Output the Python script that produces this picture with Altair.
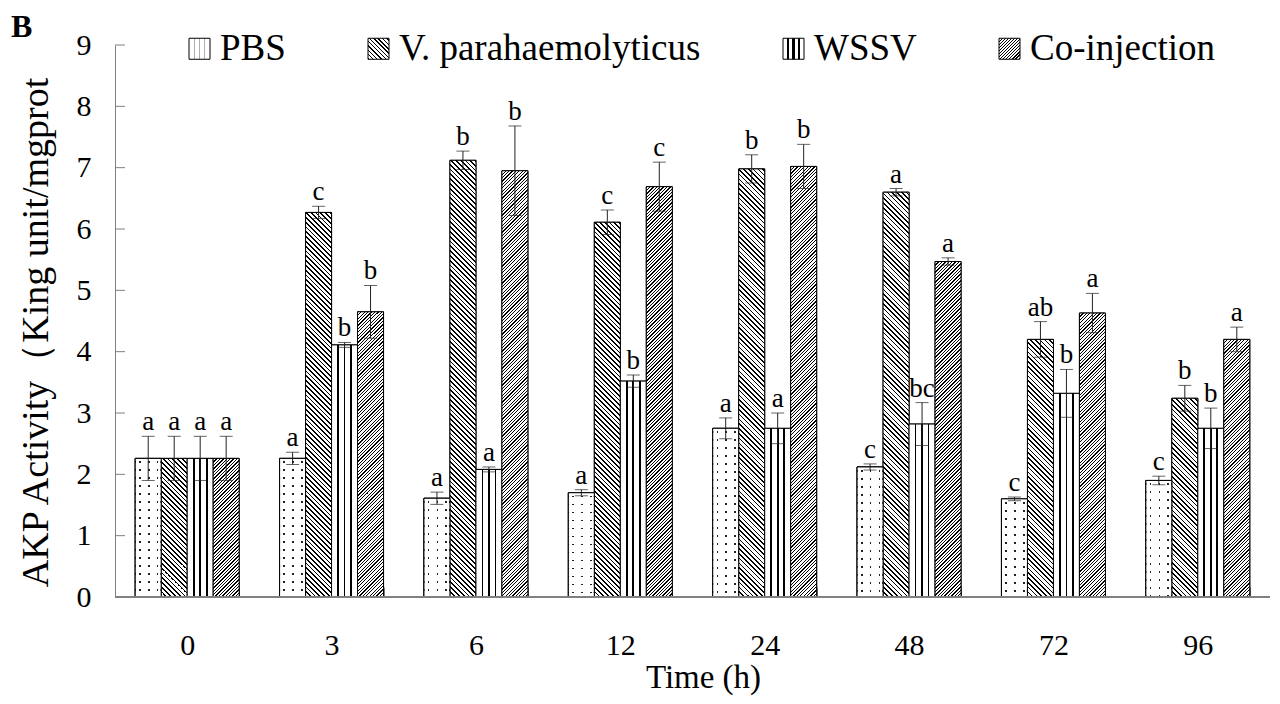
import altair as alt
import pandas as pd

# ---------------- data ----------------
times = ["0", "3", "6", "12", "24", "48", "72", "96"]
groups = ["PBS", "V. parahaemolyticus", "WSSV", "Co-injection"]

pbs_mean = [2.26, 2.26, 1.61, 1.70, 2.75, 2.12, 1.60, 1.90]
pbs_err = [0.36, 0.10, 0.10, 0.05, 0.17, 0.05, 0.03, 0.07]
pbs_sig = ["a", "a", "a", "a", "a", "c", "c", "c"]

vp_mean = [2.26, 6.27, 7.12, 6.11, 6.98, 6.60, 4.20, 3.24]
vp_err = [0.36, 0.10, 0.15, 0.20, 0.23, 0.06, 0.29, 0.21]
vp_sig = ["a", "c", "b", "c", "b", "a", "ab", "b"]

wssv_mean = [2.26, 4.11, 2.08, 3.52, 2.75, 2.82, 3.32, 2.75]
wssv_err = [0.36, 0.04, 0.04, 0.10, 0.25, 0.35, 0.39, 0.33]
wssv_sig = ["a", "b", "a", "b", "a", "bc", "b", "b"]

co_mean = [2.26, 4.65, 6.95, 6.69, 7.02, 5.47, 4.63, 4.20]
co_err = [0.36, 0.43, 0.73, 0.40, 0.36, 0.06, 0.32, 0.20]
co_sig = ["a", "b", "b", "c", "b", "a", "a", "a"]

y_ticks = list(range(10))
panel_label = ["B"]

# ---------------- layout / style ----------------
W, H = 1155, 552
PAD_IN, PAD_OUT = 0.28, 0.14
STEP = W / (len(times) - PAD_IN + 2 * PAD_OUT)
BAR_W = STEP * (1 - PAD_IN) / len(groups)
PXU = H / 9.0
FONT = "Liberation Serif"
AXIS_GRAY = "#808080"

rows = []
for name, means, errs, sigs in [
    (groups[0], pbs_mean, pbs_err, pbs_sig),
    (groups[1], vp_mean, vp_err, vp_sig),
    (groups[2], wssv_mean, wssv_err, wssv_sig),
    (groups[3], co_mean, co_err, co_sig),
]:
    for t, m, e, s in zip(times, means, errs, sigs):
        rows.append({"time": t, "group": name, "mean": m,
                     "lo": round(m - e, 3), "hi": round(m + e, 3), "sig": s})
df = pd.DataFrame(rows)
ytdf = pd.DataFrame({"v": y_ticks})
labdf = pd.DataFrame({"t": panel_label})


def diag_stops(period, ink, denom, ink_color, n, bg="#ffffff"):
    parts = []
    for i in range(n):
        a = i * period
        b = a + ink
        c = a + period
        parts.append(f"{{offset:{a:.2f}/{denom},color:'{ink_color}'}}")
        parts.append(f"{{offset:{b:.2f}/{denom},color:'{ink_color}'}}")
        parts.append(f"{{offset:{b:.2f}/{denom},color:'{bg}'}}")
        parts.append(f"{{offset:{c:.2f}/{denom},color:'{bg}'}}")
    return "[" + ",".join(parts) + "]"


def col_stops(centers, half, ink_color, bg="#ffffff"):
    parts = [f"{{offset:0,color:'{bg}'}}"]
    for c in centers:
        a, b = c - half, c + half
        parts += [f"{{offset:{a:.4f},color:'{bg}'}}", f"{{offset:{a:.4f},color:'{ink_color}'}}",
                  f"{{offset:{b:.4f},color:'{ink_color}'}}", f"{{offset:{b:.4f},color:'{bg}'}}"]
    parts.append(f"{{offset:1,color:'{bg}'}}")
    return "[" + ",".join(parts) + "]"


def row_mask_stops(period, gap, denom, n):
    clear = "rgba(255,255,255,0)"
    parts = [f"{{offset:0,color:'#ffffff'}}"]
    for i in range(n):
        a = i * period + 3.0
        b = a + gap
        parts += [f"{{offset:{a:.2f}/{denom},color:'#ffffff'}}", f"{{offset:{a:.2f}/{denom},color:'{clear}'}}",
                  f"{{offset:{b:.2f}/{denom},color:'{clear}'}}", f"{{offset:{b:.2f}/{denom},color:'#ffffff'}}"]
    return "[" + ",".join(parts) + "]"


V_P, V_INK = 4.8, 1.7
C_P, C_INK = 3.4, 1.25
wssv_cols = col_stops([0.25, 0.5, 0.75], 0.035, "#000000")
pbs_cols = col_stops([0.18, 0.52, 0.86], 0.032, "#222222")

v_expr = ("{gradient:'linear',x1:0,y1:1,x2:datum.K*%f,y2:1-datum.K*datum.h,stops:%s}"
          % (BAR_W, diag_stops(V_P, V_INK, "datum.S", "#000000", 110)))
c_expr = ("{gradient:'linear',x1:0,y1:0,x2:datum.K*%f,y2:datum.K*datum.h,stops:%s}"
          % (BAR_W, diag_stops(C_P, C_INK, "datum.S", "#000000", 150)))
w_expr = "{gradient:'linear',x1:0,y1:0,x2:1,y2:0,stops:%s}" % wssv_cols
p_expr = "{gradient:'linear',x1:0,y1:0,x2:1,y2:0,stops:%s}" % pbs_cols
grad_expr = (f"datum.group === '{groups[1]}' ? {v_expr} : datum.group === '{groups[3]}' ? {c_expr} : "
             f"datum.group === '{groups[2]}' ? {w_expr} : {p_expr}")
mask_expr = ("{gradient:'linear',x1:0,y1:0,x2:0,y2:1,stops:%s}"
             % row_mask_stops(8.0, 1.7, "datum.h", 40))

# legend symbol fills (square symbols, side ~21px)
SYM = 21
leg_pbs = "{gradient:'linear',x1:0,y1:0,x2:1,y2:0,stops:%s}" % col_stops([0.25, 0.5, 0.75], 0.035, "#b0b0b0")
leg_v = "{gradient:'linear',x1:0,y1:1,x2:1,y2:0,stops:%s}" % diag_stops(V_P * 0.9, V_INK * 0.9, str(2 * SYM), "#000000", 14)
leg_w = "{gradient:'linear',x1:0,y1:0,x2:1,y2:0,stops:%s}" % col_stops([0.25, 0.5, 0.75], 0.05, "#000000")
leg_c = "{gradient:'linear',x1:0,y1:0,x2:1,y2:1,stops:%s}" % diag_stops(C_P * 0.9, C_INK * 0.9, str(2 * SYM), "#000000", 18)

# ---------------- encodings ----------------
x_scale = alt.Scale(domain=times, paddingInner=PAD_IN, paddingOuter=PAD_OUT)
y_scale = alt.Scale(domain=[0, 9], nice=False, zero=True)
xo_scale = alt.Scale(domain=groups, paddingInner=0, paddingOuter=0)

x_axis = alt.Axis(title="Time (h)", domain=False, ticks=True, tickBand="extent", tickSize=10,
                  tickColor=AXIS_GRAY, offset=-10, labelAngle=0, labelFont=FONT, labelFontSize=30,
                  labelColor="black", labelPadding=33, grid=False,
                  titleFont=FONT, titleFontSize=33, titleFontWeight="normal", titleColor="black",
                  titleX=588, titleY=100, titleBaseline="alphabetic", titleAlign="center")
y_axis = alt.Axis(title="AKP Activity（King unit/mgprot", values=y_ticks, format="d", domain=True,
                  domainColor=AXIS_GRAY, ticks=False, grid=False, labelFont=FONT, labelFontSize=30,
                  labelColor="black", labelPadding=24,
                  titleFont=FONT, titleFontSize=38, titleFontWeight="normal", titleColor="black",
                  titleAngle=270, titleX=-68, titleY=287, titleBaseline="alphabetic", titleAlign="center")


def X():
    return alt.X("time:N", scale=x_scale, axis=x_axis, sort=times)


def XO():
    return alt.XOffset("group:N", scale=xo_scale, sort=groups)


def Y(field):
    return alt.Y(field, type="quantitative", scale=y_scale, axis=y_axis)


base = alt.Chart(df)

legend_bars = base.mark_bar(stroke="black", strokeWidth=1).encode(
    x=X(), xOffset=XO(), y=Y("mean"),
    color=alt.Color("group:N", sort=groups,
                    scale=alt.Scale(domain=groups, range=[{"expr": e} for e in [leg_pbs, leg_v, leg_w, leg_c]]),
                    legend=alt.Legend(title=None, orient="none", legendX=66, legendY=-15,
                                      direction="horizontal", columns=4, symbolType="square",
                                      symbolSize=SYM * SYM, symbolStrokeColor="black",
                                      symbolStrokeWidth=1, symbolOpacity=1, labelFont=FONT,
                                      labelFontSize=37, labelColor="black", labelLimit=700,
                                      columnPadding=74, labelOffset=2, padding=0)),
)

main_bars = base.transform_calculate(
    h=f"datum.mean * {PXU}"
).transform_calculate(
    S=f"{BAR_W} + datum.h",
    K=f"({BAR_W} + datum.h) / ({BAR_W * BAR_W} + datum.h * datum.h)",
).transform_calculate(
    grad=grad_expr
).mark_bar(stroke="black", strokeWidth=1).encode(
    x=X(), xOffset=XO(), y=Y("mean"),
    fill=alt.Fill("grad:N", scale=None, legend=None),
)

pbs_mask = base.transform_filter(
    alt.datum.group == groups[0]
).transform_calculate(
    h=f"datum.mean * {PXU}"
).transform_calculate(
    mask=mask_expr
).mark_bar(stroke="black", strokeWidth=1).encode(
    x=X(), xOffset=XO(), y=Y("mean"),
    fill=alt.Fill("mask:N", scale=None, legend=None),
)

err_rule = base.mark_rule(color="#222222", strokeWidth=1).encode(
    x=X(), xOffset=XO(), y=Y("lo"), y2="hi")
cap_hi = base.mark_tick(color="#222222", thickness=1, size=13).encode(
    x=X(), xOffset=XO(), y=Y("hi"))
cap_lo = base.mark_tick(color="#222222", thickness=1, size=13).encode(
    x=X(), xOffset=XO(), y=Y("lo"))

letters = base.mark_text(font=FONT, fontSize=27, baseline="alphabetic", dy=-6, color="black").encode(
    x=X(), xOffset=XO(), y=Y("hi"), text="sig:N")

y_tick_rules = alt.Chart(ytdf).mark_rule(color=AXIS_GRAY, strokeWidth=1).encode(
    y=Y("v"), x=alt.value(0), x2=alt.value(10))

x_base = alt.Chart(ytdf).mark_rule(color=AXIS_GRAY, strokeWidth=1.2).encode(
    y=alt.datum(0), x=alt.value(0), x2=alt.value(W))

panel = alt.Chart(labdf).mark_text(font=FONT, fontSize=32, fontWeight="bold", align="left",
                                   baseline="alphabetic", color="black").encode(
    x=alt.value(-104), y=alt.value(-8), text="t:N")

chart = alt.layer(
    legend_bars, main_bars, pbs_mask, y_tick_rules, x_base, err_rule, cap_hi, cap_lo, letters, panel
).properties(
    width=W, height=H,
    padding={"left": 107, "top": 37, "right": 2, "bottom": 99},
    autosize=alt.AutoSizeParams(type="none"),
).configure_view(stroke=None)

chart.save("out.html", embed_options={"renderer": "svg", "actions": False})
